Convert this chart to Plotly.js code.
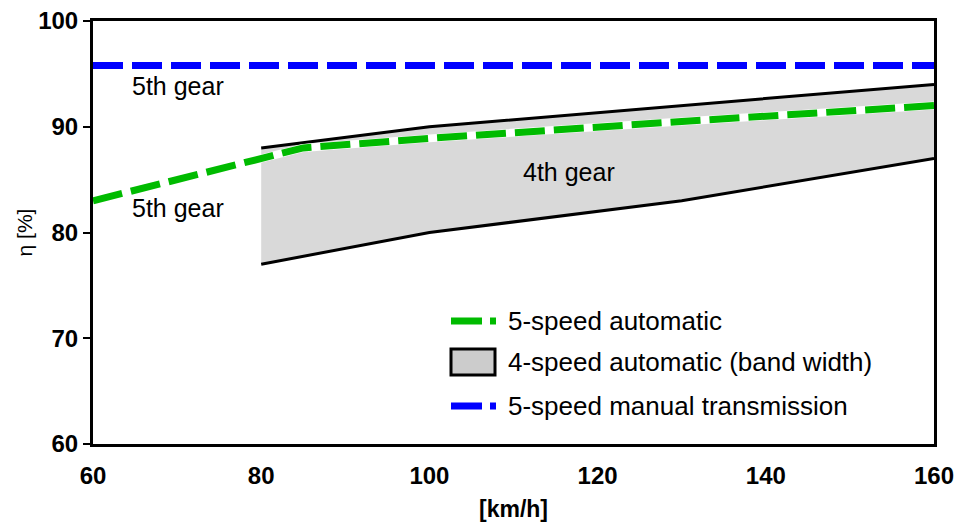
<!DOCTYPE html>
<html><head><meta charset="utf-8">
<script src="https://cdn.plot.ly/plotly-3.0.1.min.js"></script>
<style>body{margin:0;background:#fff}#c{width:956px;height:526px}</style>
</head><body><div id="c"></div>
<script>
// Data
const autoX = [60, 80, 85, 100, 120, 130, 160];
const autoY = [83, 87, 88, 88.9, 90, 90.5, 92];
const bandUpperX = [80, 100, 160];
const bandUpperY = [88, 90, 94];
const bandLowerX = [80, 100, 130, 160];
const bandLowerY = [77, 80, 83, 87];
const manualX = [60, 160];
const manualY = [95.8, 95.8];
const legendLabels = ['5-speed automatic', '4-speed automatic (band width)', '5-speed manual transmission'];
const xTicks = [60, 80, 100, 120, 140, 160];
const yTicks = [60, 70, 80, 90, 100];

const FONT = 'Arial, "Liberation Sans", sans-serif';
const GREEN = '#00bb00', BLUE = '#0000ff', GRAY = '#d9d9d9';

const traces = [
  {x: bandLowerX, y: bandLowerY, mode: 'lines', line: {color: 'black', width: 3}, showlegend: false, hoverinfo: 'skip'},
  {x: bandUpperX, y: bandUpperY, mode: 'lines', fill: 'tonexty', fillcolor: GRAY, line: {color: 'black', width: 3}, name: legendLabels[1], showlegend: false},
  {x: autoX, y: autoY, mode: 'lines', line: {color: 'white', width: 8}, showlegend: false, hoverinfo: 'skip'},
  {x: autoX, y: autoY, mode: 'lines', line: {color: GREEN, width: 7, dash: '30px,9px'}, name: legendLabels[0], showlegend: false},
  {x: manualX, y: manualY, mode: 'lines', line: {color: BLUE, width: 7, dash: '30px,9px'}, name: legendLabels[2], showlegend: false}
];

// manual legend geometry in pixel space -> paper coords
const L = 93, R = 934, T = 21, B = 444;
const px = v => (v - L) / (R - L);
const py = v => (B - v) / (B - T);
const shapes = [
  {type: 'line', xref: 'paper', yref: 'paper', x0: px(451), x1: px(496), y0: py(321), y1: py(321), line: {color: GREEN, width: 7, dash: '31px,8px'}},
  {type: 'rect', xref: 'paper', yref: 'paper', x0: px(451), x1: px(495), y0: py(349), y1: py(375), fillcolor: '#cccccc', line: {color: 'black', width: 3}},
  {type: 'line', xref: 'paper', yref: 'paper', x0: px(451), x1: px(496), y0: py(406), y1: py(406), line: {color: BLUE, width: 7, dash: '31px,8px'}}
];
const legYs = [321, 362, 406];
const annotations = legendLabels.map((t, i) => ({
  text: t, xref: 'paper', yref: 'paper', x: px(506), y: py(legYs[i]), xanchor: 'left', yanchor: 'middle', showarrow: false,
  font: {family: FONT, size: 26, color: 'black'}
}));
annotations.push(
  {text: '5th gear', x: 70.1, y: 93.9, showarrow: false, font: {family: FONT, size: 25, color: 'black'}},
  {text: '5th gear', x: 70.1, y: 82.3, showarrow: false, font: {family: FONT, size: 25, color: 'black'}},
  {text: '4th gear', x: 116.6, y: 85.7, showarrow: false, font: {family: FONT, size: 25, color: 'black'}}
);

const layout = {
  width: 956, height: 526,
  margin: {l: 93, r: 22, t: 21, b: 82},
  paper_bgcolor: 'white', plot_bgcolor: 'white',
  showlegend: false,
  xaxis: {
    range: [60, 160], tickvals: xTicks, ticktext: xTicks.map(String),
    showgrid: false, zeroline: false, showline: true, linecolor: 'black', linewidth: 3, mirror: true,
    ticks: '', ticklabelstandoff: 8, tickfont: {family: FONT, size: 24, color: 'black', weight: 'bold'},
    title: {text: '[km/h]', font: {family: FONT, size: 23, color: 'black', weight: 'bold'}, standoff: 14}
  },
  yaxis: {
    range: [60, 100], tickvals: yTicks, ticktext: yTicks.map(String),
    showgrid: false, zeroline: false, showline: true, linecolor: 'black', linewidth: 3, mirror: true,
    ticks: 'outside', ticklen: 7, tickwidth: 2, tickcolor: 'black',
    tickfont: {family: FONT, size: 24, color: 'black', weight: 'bold'},
    title: {text: 'η [%]', font: {family: FONT, size: 21, color: 'black'}, standoff: 0}
  },
  shapes: shapes,
  annotations: annotations
};
Plotly.newPlot('c', traces, layout, {displayModeBar: false, staticPlot: true});
</script></body></html>
